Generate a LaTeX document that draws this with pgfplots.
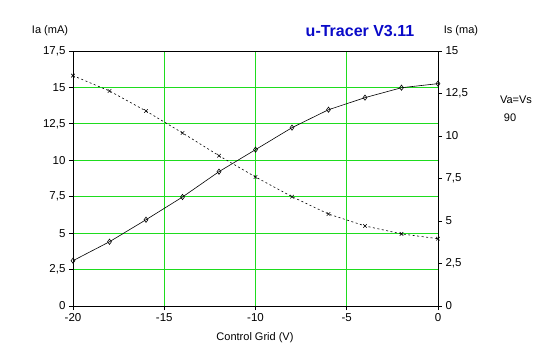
\documentclass[border=0pt]{standalone}
\usepackage{pgfplots}
\pgfplotsset{compat=1.18}
\usepackage{fontspec}
\setmainfont{Liberation Sans}
\definecolor{gridgreen}{RGB}{30,220,30}
\definecolor{titleblue}{RGB}{10,10,200}
\pgfplotstableread{
x ia
-20 3.11
-18 4.41
-16 5.92
-14 7.48
-12 9.22
-10 10.73
-8 12.24
-6 13.47
-4 14.30
-2 14.98
0 15.26
}\iadata
\pgfplotstableread{
x is
-20 13.55
-18 12.65
-16 11.47
-14 10.18
-12 8.84
-10 7.59
-8 6.43
-6 5.41
-4 4.71
-2 4.24
0 3.96
}\isdata
\begin{document}
\begin{tikzpicture}[x=1pt,y=1pt,font=\fontsize{11}{13}\selectfont]
\path[use as bounding box] (0,0) rectangle (547,357);
\pgfplotsset{
  every axis/.append style={
    at={(73pt,51pt)}, anchor=south west,
    scale only axis, width=365pt, height=255pt,
    xmin=-20, xmax=0,
    tick style={black, line width=0.8pt},
    major tick length=4pt,
    tick align=outside,
    /pgf/number format/assume math mode=true,
    /pgf/number format/use comma,
    tick label style={font=\fontsize{11.5}{13}\selectfont},
  }
}
\begin{axis}[
  axis x line*=bottom, axis y line*=left,
  axis line style={black, line width=0.8pt, -},
  ymin=0, ymax=17.5,
  ytick={0,2.5,5,7.5,10,12.5,15,17.5},
  xtick={-20,-15,-10,-5,0},
  grid=major,
  major grid style={gridgreen, line width=1pt},
  yticklabel style={/pgf/number format/.cd, fixed, precision=1, use comma},
  xticklabel style={/pgf/number format/.cd, fixed},
  xlabel={}, ylabel={},
  clip=false,
]
\addplot[black, line width=0.6pt, mark=diamond, mark size=2.6pt, mark options={solid, fill=white, line width=0.6pt}] table[x=x, y=ia] {\iadata};
\draw[black, line width=0.8pt] (axis cs:-20,17.5) -- (axis cs:0,17.5);
\end{axis}
\begin{axis}[
  axis x line=none, axis y line*=right,
  axis line style={black, line width=0.8pt, -},
  ymin=0, ymax=15,
  ytick={0,2.5,5,7.5,10,12.5,15},
  yticklabel style={/pgf/number format/.cd, fixed, precision=1, use comma},
  clip=false,
]
\addplot[black, line width=0.6pt, dash pattern=on 2pt off 2.5pt, mark=x, mark size=2.5pt, mark options={solid, line width=0.6pt}] table[x=x, y=is] {\isdata};
\end{axis}
\node at (50,326) {Ia (mA)};
\node[text=titleblue, font=\fontsize{16}{18}\selectfont\bfseries] at (360,326) {u-Tracer V3.11};
\node at (461,326) {Is (ma)};
\node at (516,257) {Va=Vs};
\node at (510,239) {90};
\node at (255,19) {Control Grid (V)};
\end{tikzpicture}
\end{document}
